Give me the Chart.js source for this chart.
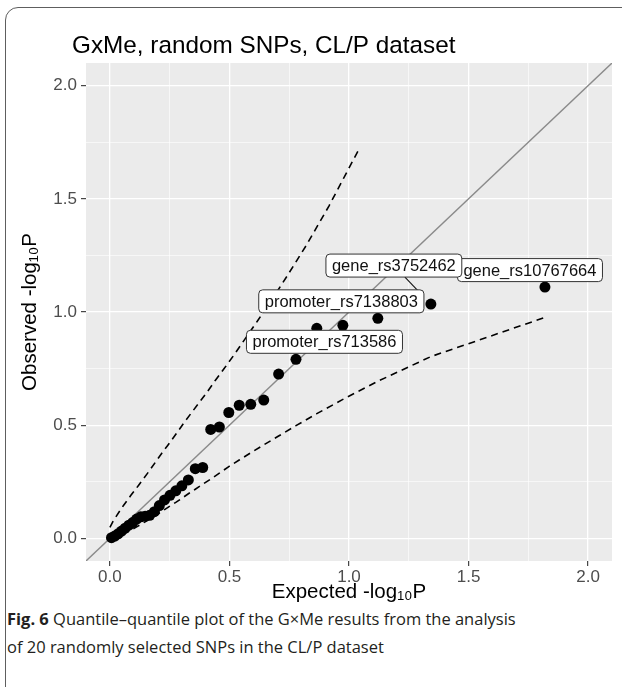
<!DOCTYPE html>
<html>
<head>
<meta charset="utf-8">
<script src="https://cdn.jsdelivr.net/npm/chart.js@4.4.1/dist/chart.umd.min.js"></script>
<style>
html,body{margin:0;padding:0;background:#fff;width:622px;height:687px;overflow:hidden;}
#frame{position:absolute;left:5px;top:7px;width:680px;height:740px;border:1.4px solid #5e5e5e;border-radius:13px;box-sizing:border-box;}
#wrap{position:absolute;left:0;top:0;width:622px;height:605px;}
#caption{position:absolute;left:7px;top:605px;white-space:nowrap;font-family:'Open Sans','Noto Sans',sans-serif;font-size:15.5px;line-height:28px;color:#231f20;}
#caption b{font-weight:700;}
</style>
</head>
<body>
<div id="frame"></div>
<div id="wrap"><canvas id="c" width="622" height="605"></canvas></div>
<div id="caption"><span id="l1"><b>Fig. 6</b> Quantile–quantile plot of the G×Me results from the analysis</span><br><span id="l2">of 20 randomly selected SNPs in the CL/P dataset</span></div>
<script>
// ---- data ----
const expectedP = [0.0066, 0.0202, 0.0342, 0.0487, 0.0637, 0.0792, 0.0953, 0.1120, 0.1293, 0.1474,
  0.1663, 0.1861, 0.2068, 0.2285, 0.2513, 0.2755, 0.3010, 0.3281, 0.3571, 0.3882,
  0.4216, 0.4578, 0.4973, 0.5408, 0.5891, 0.6435, 0.7056, 0.7782, 0.8653, 0.9744,
  1.1206, 1.3424, 1.8195];
const observedP = [0.003, 0.010, 0.020, 0.032, 0.045, 0.058, 0.070, 0.085, 0.095, 0.098,
  0.102, 0.118, 0.145, 0.170, 0.190, 0.210, 0.232, 0.258, 0.308, 0.313,
  0.481, 0.492, 0.556, 0.588, 0.592, 0.611, 0.726, 0.791, 0.928, 0.941,
  0.972, 1.035, 1.110];
// upper 95% band (ends where it leaves the plotted range)
const upperX = [0.000, 0.013, 0.027, 0.041, 0.056, 0.071, 0.087, 0.104, 0.121, 0.138,
  0.157, 0.176, 0.196, 0.217, 0.240, 0.263, 0.288, 0.314, 0.342, 0.372,
  0.405, 0.439, 0.477, 0.519, 0.564, 0.615, 0.673, 0.740, 0.820, 0.916, 1.041];
const upperBand = [0.049, 0.075, 0.098, 0.121, 0.144, 0.166, 0.189, 0.212, 0.236, 0.260,
  0.287, 0.315, 0.345, 0.376, 0.408, 0.441, 0.478, 0.517, 0.556, 0.598,
  0.644, 0.695, 0.749, 0.810, 0.879, 0.957, 1.048, 1.157, 1.292, 1.468, 1.718];
const lowerX = [0.0066, 0.0202, 0.0342, 0.0487, 0.0637, 0.0792, 0.0953, 0.1120, 0.1293, 0.1474,
  0.1663, 0.1861, 0.2068, 0.2285, 0.2513, 0.2755, 0.3010, 0.3281, 0.3571, 0.3882,
  0.4216, 0.4578, 0.4973, 0.5408, 0.5891, 0.6435, 0.7056, 0.7782, 0.8653, 0.9744,
  1.1206, 1.3424, 1.8195];
const lowerBand = [0.0003, 0.003, 0.008, 0.015, 0.023, 0.031, 0.041, 0.051, 0.062, 0.073,
  0.085, 0.098, 0.112, 0.127, 0.143, 0.159, 0.177, 0.197, 0.217, 0.239,
  0.262, 0.288, 0.317, 0.346, 0.378, 0.413, 0.452, 0.498, 0.551, 0.614,
  0.694, 0.803, 0.976];
const labelNames = ['gene_rs10767664', 'gene_rs3752462', 'promoter_rs7138803', 'promoter_rs713586'];
const labelPointIndex = [32, 31, 30, 27];
const majorTicks = [0, 0.5, 1.0, 1.5, 2.0];
const majorTickLabels = ['0.0', '0.5', '1.0', '1.5', '2.0'];
const minorTicks = [0.25, 0.75, 1.25, 1.75];
const axisMin = -0.1, axisMax = 2.1;

// ---- styling / layout (not data) ----
const FONT = "'Liberation Sans', Arial, Helvetica, sans-serif";
const labelOffsets = [[-15, -17], [-37, -38.5], [-36.5, -17], [28.5, -17.5]];

const toXY = (xs, ys) => xs.map((x, i) => ({x: x, y: ys[i]}));
const isMinor = v => minorTicks.some(m => Math.abs(m - v) < 1e-9);
const buildTicks = scale => {
  const all = majorTicks.concat(minorTicks).sort((a, b) => a - b);
  scale.ticks = all.map(v => ({value: v}));
};
const tickLabel = v => {
  const k = majorTicks.findIndex(m => Math.abs(m - v) < 1e-9);
  return k >= 0 ? majorTickLabels[k] : '';
};

const panelBg = {
  id: 'panelBg',
  beforeDraw(chart) {
    const {ctx, chartArea: a} = chart;
    ctx.save();
    ctx.fillStyle = '#ebebeb';
    ctx.fillRect(a.left, a.top, a.right - a.left, a.bottom - a.top);
    ctx.restore();
  }
};

const plotTitle = {
  id: 'plotTitle',
  afterDraw(chart) {
    const ctx = chart.ctx;
    ctx.save();
    ctx.font = '24.3px ' + FONT;
    ctx.fillStyle = '#000';
    ctx.textBaseline = 'alphabetic';
    ctx.textAlign = 'left';
    ctx.fillText('GxMe, random SNPs, CL/P dataset', 72, 53);
    ctx.restore();
  }
};

const repelLabels = {
  id: 'repelLabels',
  afterDatasetsDraw(chart) {
    const ctx = chart.ctx;
    const xs = chart.scales.x, ys = chart.scales.y;
    ctx.save();
    ctx.font = '16.5px ' + FONT;
    labelNames.forEach((name, k) => {
      const idx = labelPointIndex[k];
      const px = xs.getPixelForValue(expectedP[idx]);
      const py = ys.getPixelForValue(observedP[idx]);
      const cx = px + labelOffsets[k][0];
      const cy = py + labelOffsets[k][1];
      const w = ctx.measureText(name).width + 12;
      const h = 23;
      const l = cx - w / 2, t = cy - h / 2;
      // segment
      const dx = px - cx, dy = py - cy;
      const dist = Math.hypot(dx, dy);
      const tEdge = Math.min(Math.abs((w / 2) / (dx || 1e-9)), Math.abs((h / 2) / (dy || 1e-9)));
      const ex = cx + dx * tEdge, ey = cy + dy * tEdge;
      const rem = Math.hypot(px - ex, py - ey);
      if (rem > 16) {
        const ux = dx / dist, uy = dy / dist;
        ctx.beginPath();
        ctx.strokeStyle = '#111';
        ctx.lineWidth = 1.1;
        ctx.moveTo(ex, ey);
        ctx.lineTo(px - ux * 15, py - uy * 15);
        ctx.stroke();
      }
      // box
      const r = 4;
      ctx.beginPath();
      ctx.moveTo(l + r, t);
      ctx.lineTo(l + w - r, t);
      ctx.quadraticCurveTo(l + w, t, l + w, t + r);
      ctx.lineTo(l + w, t + h - r);
      ctx.quadraticCurveTo(l + w, t + h, l + w - r, t + h);
      ctx.lineTo(l + r, t + h);
      ctx.quadraticCurveTo(l, t + h, l, t + h - r);
      ctx.lineTo(l, t + r);
      ctx.quadraticCurveTo(l, t, l + r, t);
      ctx.closePath();
      ctx.fillStyle = '#fff';
      ctx.fill();
      ctx.strokeStyle = '#333';
      ctx.lineWidth = 1;
      ctx.stroke();
      ctx.fillStyle = '#111';
      ctx.textAlign = 'center';
      ctx.textBaseline = 'middle';
      ctx.fillText(name, cx, cy + 1);
    });
    ctx.restore();
  }
};

const gridOpts = {
  drawOnChartArea: true,
  drawTicks: true,
  tickLength: 5,
  color: '#ffffff',
  lineWidth: c => (c.tick && isMinor(c.tick.value)) ? 0.6 : 1.3,
  tickColor: c => (c.tick && isMinor(c.tick.value)) ? 'rgba(0,0,0,0)' : '#333333',
  tickWidth: 1.1
};

new Chart(document.getElementById('c'), {
  type: 'scatter',
  data: {
    datasets: [
      {
        label: 'SNPs',
        data: toXY(expectedP, observedP),
        backgroundColor: '#000',
        borderColor: '#000',
        pointRadius: 5.5,
        pointBorderWidth: 0,
        order: 0
      },
      {
        label: 'upper',
        data: toXY(upperX, upperBand),
        showLine: true,
        borderColor: '#000',
        borderWidth: 1.6,
        borderDash: [7, 5],
        pointRadius: 0,
        fill: false,
        tension: 0,
        order: 1
      },
      {
        label: 'lower',
        data: toXY(lowerX, lowerBand),
        showLine: true,
        borderColor: '#000',
        borderWidth: 1.6,
        borderDash: [7, 5],
        pointRadius: 0,
        fill: false,
        tension: 0,
        order: 2
      },
      {
        label: 'identity',
        data: [{x: axisMin, y: axisMin}, {x: axisMax, y: axisMax}],
        showLine: true,
        borderColor: '#8a8a8a',
        borderWidth: 1.4,
        pointRadius: 0,
        fill: false,
        order: 3
      }
    ]
  },
  options: {
    responsive: false,
    animation: false,
    devicePixelRatio: 1,
    layout: {padding: {top: 63, right: 10, left: 0, bottom: 0}},
    plugins: {legend: {display: false}, tooltip: {enabled: false}, title: {display: false}},
    scales: {
      x: {
        type: 'linear',
        min: axisMin, max: axisMax,
        afterBuildTicks: buildTicks,
        afterFit: s => { s.height = 44; },
        grid: gridOpts,
        border: {display: false},
        ticks: {callback: v => tickLabel(v), color: '#4d4d4d', font: {family: FONT, size: 17}, padding: 1, maxRotation: 0, autoSkip: false},
        title: {display: true, text: 'Expected -log₁₀P', color: '#000', font: {family: FONT, size: 20.5}, padding: {top: 0, bottom: 0}}
      },
      y: {
        type: 'linear',
        min: axisMin, max: axisMax,
        afterBuildTicks: buildTicks,
        afterFit: s => { s.width = 86; },
        grid: gridOpts,
        border: {display: false},
        ticks: {callback: v => tickLabel(v), color: '#4d4d4d', font: {family: FONT, size: 17}, padding: 4, autoSkip: false},
        title: {display: true, text: 'Observed -log₁₀P', color: '#000', font: {family: FONT, size: 20.5}, padding: {top: 18, bottom: 0}}
      }
    }
  },
  plugins: [panelBg, repelLabels, plotTitle]
});

// fit caption first line to the reference width
(function () {
  const cap = document.getElementById('caption');
  const l1 = document.getElementById('l1');
  const target = 509;
  const w = l1.getBoundingClientRect().width;
  if (w > 0) cap.style.fontSize = (15.5 * target / w).toFixed(2) + 'px';
})();
</script>
</body>
</html>
